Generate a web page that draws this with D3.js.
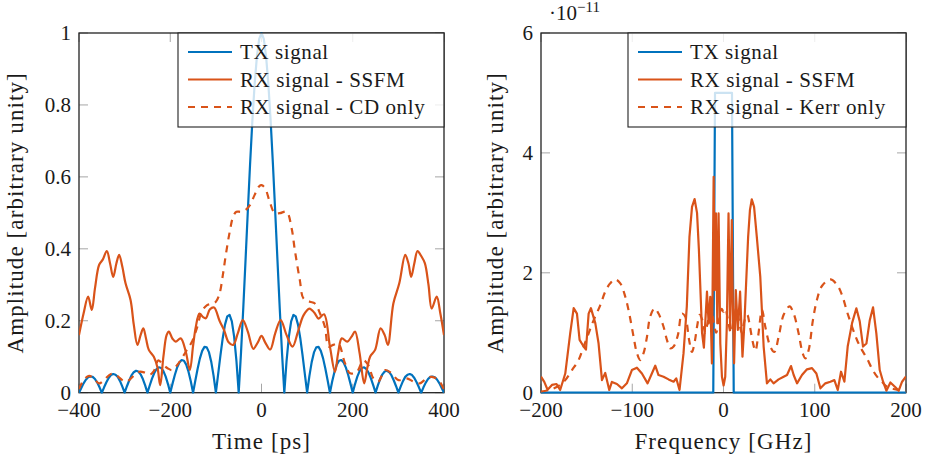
<!DOCTYPE html>
<html>
<head>
<meta charset="utf-8">
<script src="https://cdn.jsdelivr.net/npm/d3@7"></script>
<style>
  body { margin: 0; background: #fff; }
  svg { display: block; }
</style>
</head>
<body>
<div id="chart"></div>
<script>
// ---- time domain (left) ----
const timeTicks = [-400, -200, 0, 200, 400];
const ampTicks = [0, 0.2, 0.4, 0.6, 0.8, 1];
const ampTickLabels = ["0", "0.2", "0.4", "0.6", "0.8", "1"];

// TX pulse, sampled every 5 ps from -400 to 400
const txTime = d3.range(-400, 400.1, 5);
const txAmp = [
  0, 0.013, 0.026, 0.036, 0.043, 0.045, 0.044, 0.038, 0.028, 0.015,
  0, 0.015, 0.029, 0.041, 0.049, 0.052, 0.050, 0.044, 0.032, 0.017,
  0, 0.018, 0.034, 0.048, 0.057, 0.061, 0.059, 0.051, 0.038, 0.0205,
  0, 0.0201, 0.0390, 0.0548, 0.0658, 0.0707, 0.0688, 0.0599, 0.0445, 0.0240,
  0, 0.0252, 0.0492, 0.0696, 0.0841, 0.0909, 0.0890, 0.0780, 0.0585, 0.0317,
  0, 0.0339, 0.0668, 0.0954, 0.1164, 0.1273, 0.1261, 0.1120, 0.0850, 0.0468,
  0, 0.0518, 0.1039, 0.1515, 0.1892, 0.2122, 0.2162, 0.1981, 0.1559, 0.0894,
  0, 0.1093, 0.2339, 0.3679, 0.5046, 0.6366, 0.7568, 0.8584, 0.9355, 0.9836,
  1,
  0.9836, 0.9355, 0.8584, 0.7568, 0.6366, 0.5046, 0.3679, 0.2339, 0.1093, 0,
  0.0894, 0.1559, 0.1981, 0.2162, 0.2122, 0.1892, 0.1515, 0.1039, 0.0518, 0,
  0.0468, 0.0850, 0.1120, 0.1261, 0.1273, 0.1164, 0.0954, 0.0668, 0.0339, 0,
  0.0317, 0.0585, 0.0780, 0.0890, 0.0909, 0.0841, 0.0696, 0.0492, 0.0252, 0,
  0.0240, 0.0445, 0.0599, 0.0688, 0.0707, 0.0658, 0.0548, 0.0390, 0.0201, 0,
  0.0205, 0.038, 0.051, 0.059, 0.061, 0.057, 0.048, 0.034, 0.018, 0,
  0.017, 0.032, 0.044, 0.050, 0.052, 0.049, 0.041, 0.029, 0.015, 0,
  0.015, 0.028, 0.038, 0.044, 0.045, 0.043, 0.036, 0.026, 0.013, 0
];

const ssfmTime = [-400, -390, -380, -372, -365, -356, -348, -339, -332, -325, -318, -312, -305, -298, -287, -280, -272, -265, -259, -253, -247, -236, -228, -222, -215, -208, -203, -195, -188, -177, -166, -157, -150, -144, -136, -128, -122, -113, -104, -92, -82, -72, -62, -52, -41, -30, -18, -8, 0,
  8, 19, 30, 42, 55, 68, 80, 92, 105, 116, 125, 137, 150, 161, 168, 176, 188, 197, 205, 215, 225, 232, 238, 249, 261, 270, 277, 289, 302, 315, 322, 328, 335, 342, 350, 358, 366, 373, 384, 392, 400];
const ssfmAmp = [0.16, 0.22, 0.267, 0.23, 0.29, 0.355, 0.37, 0.394, 0.36, 0.322, 0.36, 0.383, 0.35, 0.304, 0.258, 0.19, 0.133, 0.16, 0.179, 0.15, 0.119, 0.10, 0.07, 0.021, 0.10, 0.16, 0.17, 0.15, 0.142, 0.151, 0.114, 0.063, 0.13, 0.183, 0.22, 0.21, 0.207, 0.232, 0.237, 0.2, 0.174, 0.14, 0.133, 0.165, 0.202, 0.17, 0.122, 0.14, 0.158,
  0.14, 0.12, 0.165, 0.202, 0.16, 0.128, 0.17, 0.215, 0.234, 0.222, 0.206, 0.218, 0.128, 0.058, 0.11, 0.151, 0.142, 0.155, 0.17, 0.11, 0.026, 0.07, 0.1, 0.119, 0.179, 0.16, 0.133, 0.248, 0.304, 0.383, 0.36, 0.322, 0.36, 0.394, 0.38, 0.36, 0.3, 0.234, 0.267, 0.22, 0.16];

const cdTime = [-400, -390, -378, -368, -356, -345, -330, -318, -305, -295, -282, -268, -256, -245, -236, -226, -216, -206, -196, -186, -175, -164, -153, -142, -131, -120, -110, -100, -92, -85, -78, -70, -62, -55, -45, -35, -25, -15, -5, 0,
  8, 18, 29, 40, 55, 66, 73, 84, 92, 106, 117, 128, 139, 147, 157, 168, 183, 194, 209, 223, 234, 245, 256, 271, 285, 300, 318, 333, 347, 362, 373, 388, 400];
const cdAmp = [0.01, 0.035, 0.047, 0.04, 0.026, 0.035, 0.052, 0.048, 0.035, 0.031, 0.045, 0.058, 0.056, 0.05, 0.06, 0.09, 0.078, 0.068, 0.063, 0.075, 0.095, 0.118, 0.14, 0.178, 0.225, 0.243, 0.247, 0.253, 0.275, 0.325, 0.385, 0.445, 0.49, 0.503, 0.503, 0.508, 0.522, 0.55, 0.574, 0.577,
  0.568, 0.531, 0.499, 0.499, 0.503, 0.457, 0.397, 0.313, 0.262, 0.253, 0.248, 0.221, 0.183, 0.128, 0.133, 0.137, 0.082, 0.054, 0.058, 0.09, 0.077, 0.04, 0.031, 0.063, 0.054, 0.035, 0.04, 0.031, 0.026, 0.04, 0.044, 0.035, 0.008];

// ---- frequency domain (right), amplitudes in units of 1e-11 ----
const freqTicks = [-200, -100, 0, 100, 200];
const specTicks = [0, 2, 4, 6];

const txFreq = [-200, -11.2, -9.3, 9.3, 11.2, 200];
const txSpec = [0, 0, 5.0, 5.0, 0, 0];

const ssfmFreq = [-200, -196.4, -192.8, -188, -183, -179, -173.4, -168, -164.2, -160.6, -157.7, -153.3, -150.7, -147.8, -145.3, -140.5, -136.9, -133.2, -129.6, -125.2, -122.3, -116.8, -111.3, -105.9, -100.4, -94.9, -89.4, -83.2, -78.5, -74.8, -71.2, -65.7, -60.2, -54.7, -51.8, -48.2, -43.8, -40.2, -37.3, -34.5, -31.7, -29, -27, -25, -23.5, -21.5, -18.1, -16.3, -14.5, -12.7, -10.8, -9.7, -8.3, -6.8, -5.4, -3.5, -1.7, 0.1, 1.9, 3.7, 5.5, 7.3, 9.1, 10.2, 11.6, 13.5, 15.7, 18.2, 20.8, 22.9, 25, 27, 29, 31, 33.5, 36.5, 40.3, 44, 47.6, 51.3, 54.9, 60.4, 65.9, 69.6, 74, 76.9, 80.6, 86, 91.5, 97, 101.8, 106.2, 111.6, 117.1, 121.5, 125.2, 128.8, 132.5, 136.1, 140.9, 145.6, 149.3, 152.9, 156.6, 160.3, 163.9, 167.5, 171.2, 174.9, 178.5, 182.9, 188.4, 192, 195.7, 200];
const ssfmSpec = [0.27, 0.18, 0.05, 0.13, 0.145, 0.045, 0.32, 0.99, 1.41, 1.32, 0.88, 0.77, 0.72, 1.32, 1.41, 1.16, 0.82, 0.21, 0.33, 0.045, 0.18, 0.145, 0.073, 0.156, 0.378, 0.417, 0.32, 0.156, 0.32, 0.45, 0.295, 0.267, 0.222, 0.183, 0.24, 0.045, 0.66, 1.44, 2.6, 3.1, 3.23, 3.0, 2.4, 1.6, 1.0, 0.75, 1.685, 1.157, 1.6, 0.489, 3.6, 1.71, 2.99, 1.157, 2.99, 0.82, 0.267, 0.12, 0.267, 1.157, 2.99, 1.046, 2.88, 1.49, 0.49, 1.71, 1.046, 1.685, 0.6, 1.157, 1.9, 2.6, 3.05, 3.226, 3.1, 2.6, 1.935, 0.77, 0.156, 0.222, 0.156, 0.222, 0.267, 0.295, 0.445, 0.295, 0.156, 0.295, 0.39, 0.41, 0.32, 0.073, 0.156, 0.183, 0.21, 0.045, 0.35, 0.183, 0.77, 1.16, 1.408, 1.19, 0.77, 0.82, 1.21, 1.425, 0.99, 0.378, 0.183, 0.033, 0.17, 0.09, 0.033, 0.183, 0.27];

const kerrFreq = [-200, -190, -180, -173.4, -166, -158.8, -153.3, -147.8, -142.3, -135, -129.6, -124.1, -118.6, -113.1, -107.6, -103.3, -98.5, -94.9, -91.2, -87.6, -83.9, -80.3, -75.5, -71.2, -65.7, -62, -58.4, -54.7, -50, -45.6, -42, -37.7, -34.6, -31.5, -29, -26, -23, -20, -17, -14, -11, -8, -5, -2, 0, 2, 5, 8, 11, 14, 17, 20, 23, 26, 29, 32, 35, 38, 42.2, 45.8, 51.3, 55.7, 60.4, 65.9, 72.4, 76.9, 82.3, 86.7, 89.6, 93.3, 98, 102.4, 107.9, 117.1, 124.4, 129.9, 135.4, 140.9, 146.3, 151.8, 157.3, 162.8, 168.3, 173.8, 179.3, 190, 200];
const kerrSpec = [0.02, 0.05, 0.12, 0.21, 0.378, 0.545, 0.77, 0.99, 1.21, 1.46, 1.686, 1.824, 1.89, 1.824, 1.6, 1.32, 0.93, 0.66, 0.545, 0.66, 0.93, 1.27, 1.408, 1.32, 1.1, 0.88, 0.74, 0.77, 0.96, 1.32, 1.27, 0.88, 0.68, 0.85, 1.1, 1.3, 1.2, 1.0, 1.2, 1.4, 1.2, 1.0, 1.2, 1.4, 1.35, 1.4, 1.2, 1.0, 1.2, 1.4, 1.2, 1.0, 1.2, 1.3, 1.1, 0.85, 0.7, 0.95, 1.38, 1.1, 0.77, 0.68, 0.93, 1.3, 1.44, 1.32, 0.99, 0.66, 0.572, 0.71, 1.21, 1.55, 1.78, 1.89, 1.8, 1.63, 1.35, 1.1, 0.88, 0.71, 0.57, 0.40, 0.267, 0.18, 0.1, 0.05, 0.02];

const BLUE = "#0072bd";
const ORANGE = "#d95319";
const FONT = "Liberation Serif";
const INK = "#1a1a1a";

const svg = d3.select("#chart").append("svg")
  .attr("width", 926)
  .attr("height", 459);

svg.append("rect").attr("width", 926).attr("height", 459).attr("fill", "#fff");

function drawPanel(p) {
  const x = d3.scaleLinear().domain(p.xDomain).range([p.left, p.right]);
  const y = d3.scaleLinear().domain(p.yDomain).range([p.bottom, p.top]);
  const g = svg.append("g").attr("font-family", FONT).attr("fill", INK);

  // ticks, inside, on all four sides
  const tickLen = 9;
  p.xTicks.forEach((v) => {
    g.append("line").attr("x1", x(v)).attr("x2", x(v))
      .attr("y1", p.bottom).attr("y2", p.bottom - tickLen)
      .attr("stroke", "#a6a6a6").attr("stroke-width", 1);
    g.append("line").attr("x1", x(v)).attr("x2", x(v))
      .attr("y1", p.top).attr("y2", p.top + tickLen)
      .attr("stroke", "#a6a6a6").attr("stroke-width", 1);
    g.append("text").attr("x", x(v)).attr("y", p.bottom + 24)
      .attr("text-anchor", "middle").attr("font-size", 21)
      .text(v < 0 ? "\u2212" + Math.abs(v) : String(v));
  });
  p.yTicks.forEach((v, i) => {
    g.append("line").attr("x1", p.left).attr("x2", p.left + tickLen)
      .attr("y1", y(v)).attr("y2", y(v))
      .attr("stroke", "#a6a6a6").attr("stroke-width", 1);
    g.append("line").attr("x1", p.right).attr("x2", p.right - tickLen)
      .attr("y1", y(v)).attr("y2", y(v))
      .attr("stroke", "#a6a6a6").attr("stroke-width", 1);
    g.append("text").attr("x", p.left - 8).attr("y", y(v) + 7)
      .attr("text-anchor", "end").attr("font-size", 21)
      .text(p.yTickLabels[i]);
  });

  g.append("rect")
    .attr("x", p.left).attr("y", p.top)
    .attr("width", p.right - p.left).attr("height", p.bottom - p.top)
    .attr("fill", "none").attr("stroke", "#222").attr("stroke-width", 1.3);

  const clipId = "clip-" + p.id;
  svg.append("clipPath").attr("id", clipId).append("rect")
    .attr("x", p.left).attr("y", p.top - 1)
    .attr("width", p.right - p.left).attr("height", p.bottom - p.top + 2);

  const plots = g.append("g").attr("clip-path", `url(#${clipId})`);
  p.series.forEach((s) => {
    const line = d3.line()
      .x((d) => x(d[0]))
      .y((d) => y(d[1]))
      .curve(s.curve);
    plots.append("path")
      .datum(d3.zip(s.xs, s.ys))
      .attr("fill", "none")
      .attr("stroke", s.color)
      .attr("stroke-width", 2.2)
      .attr("stroke-linejoin", "round")
      .attr("stroke-dasharray", s.dash || null)
      .attr("d", line);
  });

  // axis titles
  g.append("text")
    .attr("x", (p.left + p.right) / 2).attr("y", p.bottom + 56)
    .attr("text-anchor", "middle").attr("font-size", 23)
    .attr("letter-spacing", 1.1)
    .text(p.xTitle);
  g.append("text")
    .attr("transform", `translate(${p.yTitleX},${(p.top + p.bottom) / 2}) rotate(-90)`)
    .attr("text-anchor", "middle").attr("font-size", 23)
    .attr("letter-spacing", 1.1)
    .text("Amplitude [arbitrary unity]");

  // legend
  const lg = g.append("g");
  lg.append("rect")
    .attr("x", p.legendLeft).attr("y", p.top)
    .attr("width", p.right - p.legendLeft).attr("height", 94)
    .attr("fill", "#fff").attr("fill-opacity", 0.8)
    .attr("stroke", "#222").attr("stroke-width", 1.1);
  p.series.forEach((s, i) => {
    const ry = p.top + 19 + i * 27.5;
    lg.append("line")
      .attr("x1", p.legendLeft + 10).attr("x2", p.legendLeft + 54)
      .attr("y1", ry).attr("y2", ry)
      .attr("stroke", s.color).attr("stroke-width", 2.2)
      .attr("stroke-dasharray", s.dash || null);
    lg.append("text")
      .attr("x", p.legendLeft + 62).attr("y", ry + 7)
      .attr("font-size", 21).attr("letter-spacing", 0.6)
      .text(s.name);
  });
  return { x, y };
}

drawPanel({
  id: "time",
  left: 79, right: 444, top: 33, bottom: 392.7,
  xDomain: [-400, 400], yDomain: [0, 1],
  xTicks: timeTicks, yTicks: ampTicks, yTickLabels: ampTickLabels,
  xTitle: "Time [ps]", yTitleX: 23,
  legendLeft: 178,
  series: [
    { name: "TX signal", xs: txTime, ys: txAmp, color: BLUE, curve: d3.curveLinear },
    { name: "RX signal - SSFM", xs: ssfmTime, ys: ssfmAmp, color: ORANGE, curve: d3.curveCatmullRom },
    { name: "RX signal - CD only", xs: cdTime, ys: cdAmp, color: ORANGE, curve: d3.curveCatmullRom, dash: "7,6" }
  ]
});

drawPanel({
  id: "freq",
  left: 541, right: 906, top: 33, bottom: 392.7,
  xDomain: [-200, 200], yDomain: [0, 6],
  xTicks: freqTicks, yTicks: specTicks, yTickLabels: specTicks.map(String),
  xTitle: "Frequency [GHz]", yTitleX: 503,
  legendLeft: 628,
  series: [
    { name: "TX signal", xs: txFreq, ys: txSpec, color: BLUE, curve: d3.curveLinear },
    { name: "RX signal - SSFM", xs: ssfmFreq, ys: ssfmSpec, color: ORANGE, curve: d3.curveLinear },
    { name: "RX signal - Kerr only", xs: kerrFreq, ys: kerrSpec, color: ORANGE, curve: d3.curveCatmullRom, dash: "7,6" }
  ]
});

// scale factor of the right panel
const expo = svg.append("text").attr("font-family", FONT).attr("fill", INK)
  .attr("x", 549).attr("y", 20).attr("font-size", 21);
expo.append("tspan").text("\u00b710");
expo.append("tspan").attr("font-size", 15).attr("dy", -8).text("\u221211");
</script>
</body>
</html>
